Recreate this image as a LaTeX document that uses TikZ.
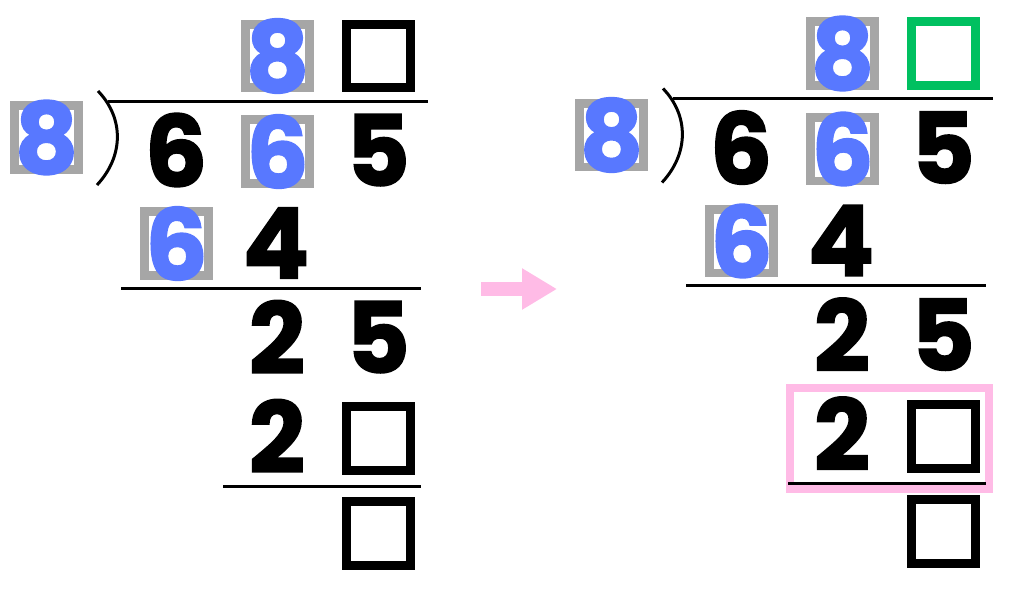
\documentclass[tikz,border=0pt]{standalone}
\usepackage{fontspec}
\setmainfont{Poppins}[BoldFeatures={FakeBold=1.6}]
\usetikzlibrary{arrows.meta}
\definecolor{digitblue}{RGB}{88,120,255}
\definecolor{boxgray}{RGB}{166,166,166}
\definecolor{markgreen}{RGB}{0,192,96}
\definecolor{markpink}{RGB}{255,187,230}
\tikzset{
	digit/.style={font=\fontsize{56}{60}\selectfont\bfseries, inner sep=0pt},
	bluedigit/.style={digit, text=digitblue},
	cell/.style={draw, line width=0.18cm, minimum size=1.28cm, inner sep=0pt},
	graycell/.style={cell, draw=boxgray},
	rule/.style={line width=0.06cm},
}

\begin{document}
\begin{tikzpicture}[x=0.02cm, y=-0.02cm]
			\useasboundingbox (0,0) rectangle (1024,589);

			% frame round the last step, right side
			\draw[markpink, line width=0.16cm] (790,388) rectangle (989,489);

			\foreach \s/\dx/\dy/\qc in {l/0/0/black, r/565/-2.5/markgreen} {
				\begin{scope}[shift={(\dx,\dy)}]
					% quotient
					\node[graycell] (\s q1) at (277.5,56) {};
					\node[bluedigit] (\s q1d) at (\s q1) {8};
					\node[cell, draw=\qc] (\s q2) at (378.5,56) {};
					\draw[rule] (108,101) -- (428,101);
					\draw[rule] (98,91) .. controls (124,118) and (124,156) .. (97,185);

					% divisor and dividend
					\node[graycell] (\s dv) at (46.5,137.5) {};
					\node[bluedigit] (\s dvd) at (\s dv) {8};
					\node[digit] (\s n1) at (176,150) {6};
					\node[graycell] (\s n2) at (277.5,151.5) {};
					\node[bluedigit] (\s n2d) at (\s n2) {6};
					\node[digit] (\s n3) at (378,150) {5};

					% first product
					\node[graycell] (\s p1) at (176.5,243.5) {};
					\node[bluedigit] (\s p1d) at (\s p1) {6};
					\node[digit] (\s p2) at (276,243) {4};
					\draw[rule] (121,288) -- (421,288);

					% remainder and second product
					\node[digit] (\s r1) at (277,337) {2};
					\node[digit] (\s r2) at (378,337) {5};
					\node[digit] (\s s1) at (277,436) {2};
					\node[cell] (\s s2) at (378.5,438.5) {};
					\draw[rule] (223,486) -- (421,486);
					\node[cell] (\s e) at (378.5,533.5) {};
				\end{scope}
			}

			\coordinate (a0) at (481,289);
			\coordinate (a1) at (557,289);
			\draw[markpink, line width=0.28cm, -{Triangle[length=0.7cm, width=0.78cm]}] (a0) -- (a1);
		\end{tikzpicture}
\end{document}
